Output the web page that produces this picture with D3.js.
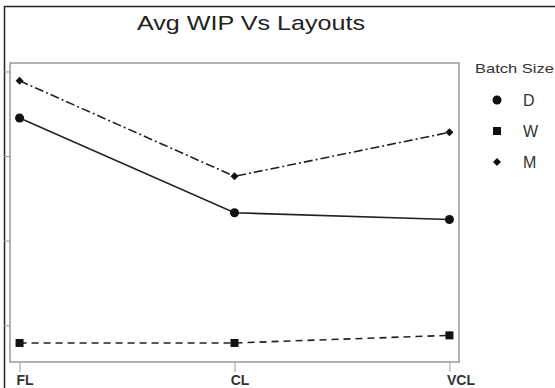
<!DOCTYPE html>
<html lang="en">
    <head>
        <meta charset="utf-8">
        <title>Avg WIP Vs Layouts</title>
        <script src="https://d3js.org/d3.v7.min.js"></script>
        <style type="text/css">
            body { margin: 0; background: #fff; }
            svg { display: block; font-family: "Liberation Sans", Arial, sans-serif; }
        </style>
    </head>
    <body>
        <script>
        // data (y labels are cropped away in the source)
        const layouts = ["FL", "CL", "VCL"];
        const batchSizes = ["D", "W", "M"];
        const wipD = [34.5, 23.3, 22.5];
        const wipW = [7.9, 7.9, 8.8];
        const wipM = [38.9, 27.6, 32.8];
        const yTicks = [10, 20, 30, 40];

        const width = 555;
        const height = 388;
        const panel = {left: 10, top: 63, right: 459, bottom: 362};

        const series = [
            {name: "D", values: wipD, dash: null, marker: "circle"},
            {name: "W", values: wipW, dash: "7,5", marker: "square"},
            {name: "M", values: wipM, dash: "9,3,2,3", marker: "diamond"}
        ];

        const xScale = d3.scalePoint()
                        .domain(layouts)
                        .range([panel.left, panel.right])
                        .padding(0.0445);

        const yScale = d3.scaleLinear()
                        .domain([5.65, 41.0])
                        .range([panel.bottom, panel.top]);

        const svg = d3.select("body")
                    .append("svg")
                    .attr("width", width)
                    .attr("height", height);

        svg.append("rect").attr("width", width).attr("height", height).attr("fill", "#fff");

        // outer frame (only top and left edges are inside the crop)
        svg.append("path")
            .attr("d", "M4.5," + height + "V6.5H" + width)
            .attr("fill", "none")
            .attr("stroke", "#222")
            .attr("stroke-width", 1.5);

        // title
        svg.append("text")
            .attr("x", 251)
            .attr("y", 30)
            .attr("text-anchor", "middle")
            .attr("font-size", 21)
            .attr("textLength", 228)
            .attr("lengthAdjust", "spacingAndGlyphs")
            .attr("fill", "#222")
            .text("Avg WIP Vs Layouts");

        // panel box
        svg.append("rect")
            .attr("x", panel.left)
            .attr("y", panel.top)
            .attr("width", panel.right - panel.left)
            .attr("height", panel.bottom - panel.top)
            .attr("fill", "none")
            .attr("stroke", "#999")
            .attr("stroke-width", 1.5);

        // left axis ticks, labels fall outside the crop
        const leftAxis = d3.axisLeft(yScale).tickValues(yTicks).tickSize(6).tickFormat("");
        const gy = svg.append("g")
            .attr("transform", "translate(" + panel.left + ",0)")
            .call(leftAxis);
        gy.select(".domain").remove();
        gy.selectAll("line").attr("stroke", "#999");

        // bottom axis
        const bottomAxis = d3.axisBottom(xScale).tickSize(10).tickPadding(3);
        const gx = svg.append("g")
            .attr("transform", "translate(0," + panel.bottom + ")")
            .call(bottomAxis);
        gx.select(".domain").remove();
        gx.selectAll("line").attr("stroke", "#999");
        gx.selectAll("text")
            .attr("font-size", 14)
            .attr("font-weight", "bold")
            .attr("fill", "#333")
            .attr("dx", d => d === "VCL" ? 11 : 5);

        const line = d3.line()
                    .x((d, i) => xScale(layouts[i]))
                    .y(d => yScale(d));

        function drawMarker(g, type, x, y) {
            if (type === "circle") {
                g.append("circle").attr("cx", x).attr("cy", y).attr("r", 4.5).attr("fill", "#111");
            } else if (type === "square") {
                g.append("rect").attr("x", x - 4).attr("y", y - 4).attr("width", 8).attr("height", 8).attr("fill", "#111");
            } else {
                g.append("path")
                    .attr("d", "M" + x + "," + (y - 4) + "L" + (x + 4) + "," + y + "L" + x + "," + (y + 4) + "L" + (x - 4) + "," + y + "Z")
                    .attr("fill", "#111");
            }
        }

        series.forEach(s => {
            svg.append("path")
                .datum(s.values)
                .attr("d", line)
                .attr("fill", "none")
                .attr("stroke", "#222")
                .attr("stroke-width", 1.6)
                .attr("stroke-dasharray", s.dash);

            const g = svg.append("g");
            s.values.forEach((v, i) => drawMarker(g, s.marker, xScale(layouts[i]), yScale(v)));
        });

        // legend
        svg.append("text")
            .attr("x", 475)
            .attr("y", 73)
            .attr("font-size", 13)
            .attr("textLength", 79)
            .attr("lengthAdjust", "spacingAndGlyphs")
            .attr("fill", "#333")
            .text("Batch Size");

        const legendY = d3.scalePoint().domain(batchSizes).range([100, 162]);
        series.forEach(s => {
            const g = svg.append("g");
            drawMarker(g, s.marker, 497, legendY(s.name));
            g.append("text")
                .attr("x", 523)
                .attr("y", legendY(s.name) + 6)
                .attr("font-size", 16)
                .attr("fill", "#333")
                .text(s.name);
        });
        </script>
    </body>
</html>
